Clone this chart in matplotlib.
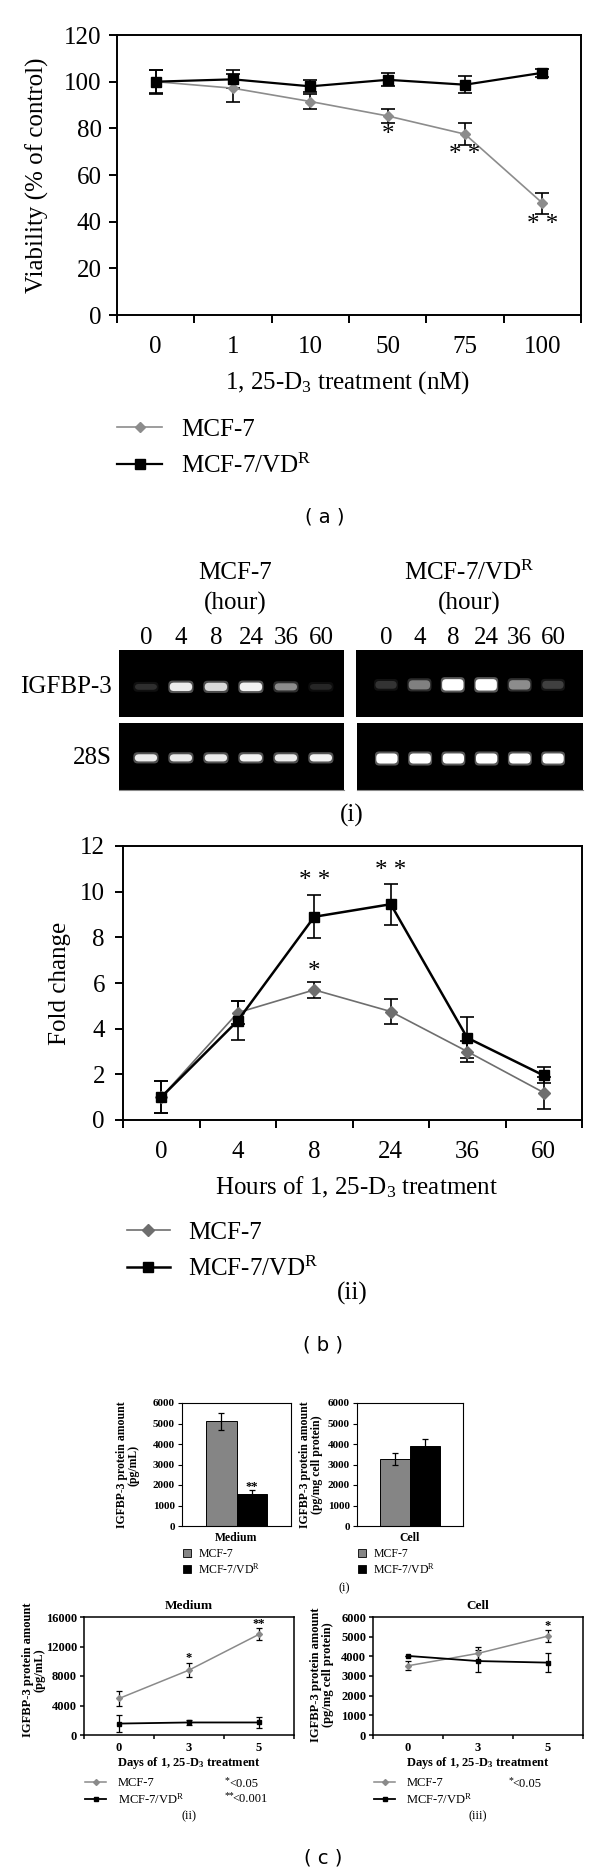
import numpy as np
import matplotlib.pyplot as plt
from matplotlib.patches import FancyBboxPatch, Patch

plt.rcParams["font.family"] = ["Liberation Serif", "DejaVu Serif"]

# (a) viability after 1,25-D3
dose_labels = ["0", "1", "10", "50", "75", "100"]
via_mcf7 = [100, 97.2, 91.5, 85.3, 77.5, 48.0]
via_mcf7_err = [5.0, 6.0, 3.2, 3.0, 4.6, 4.5]
via_vdr = [100, 101, 98, 100.8, 98.7, 103.8]
via_vdr_err = [5.2, 3.8, 2.5, 2.8, 3.6, 1.8]
via_stars = [(3, 77, "*"), (4, 68.5, "* *"), (5, 38.5, "* *")]

# (b)(i) RT-PCR band intensities (0-1)
hour_labels = ["0", "4", "8", "24", "36", "60"]
igfbp_mcf7 = [0.18, 0.92, 0.85, 0.95, 0.55, 0.15]
igfbp_vdr = [0.2, 0.5, 1.0, 1.0, 0.55, 0.25]
s28_mcf7 = [0.92, 0.92, 0.92, 0.95, 0.92, 0.95]
s28_vdr = [1.0, 1.0, 1.0, 1.0, 1.0, 1.0]

# (b)(ii) fold change
fold_mcf7 = [1.0, 4.7, 5.7, 4.75, 3.0, 1.2]
fold_mcf7_err = [0.7, 0.5, 0.35, 0.55, 0.45, 0.7]
fold_vdr = [1.0, 4.35, 8.9, 9.45, 3.6, 1.95]
fold_vdr_err = [0.7, 0.85, 0.95, 0.9, 0.9, 0.35]
fold_stars = [(2, 10.45, "* *"), (3, 10.9, "* *"), (2, 6.5, "*")]

# (c)(i) ELISA bars
comp_labels = ["Medium", "Cell"]
bar_mcf7 = [5100, 3270]
bar_mcf7_err = [420, 290]
bar_vdr = [1570, 3920]
bar_vdr_err = [170, 330]

# (c)(ii)/(iii) time course
day_labels = ["0", "3", "5"]
med_mcf7 = [4950, 8800, 13650]
med_mcf7_err = [1050, 950, 800]
med_vdr = [1550, 1700, 1700]
med_vdr_err = [1200, 400, 750]
cell_mcf7 = [3520, 4150, 5030]
cell_mcf7_err = [230, 340, 290]
cell_vdr = [4020, 3760, 3680]
cell_vdr_err = [0, 540, 480]

VDR = "MCF-7/$\\mathregular{VD^R}$"
D3 = "1, 25-$\\mathregular{D_3}$"

W, H = 600, 1875
fig = plt.figure(figsize=(W / 100, H / 100), dpi=100)


def box(x0, y0, x1, y1):
    return fig.add_axes([x0 / W, 1 - y1 / H, (x1 - x0) / W, (y1 - y0) / H])


def put(x, y, s, **kw):
    kw.setdefault("ha", "center")
    kw.setdefault("va", "center")
    fig.text(x / W, 1 - y / H, s, **kw)


def cat_axis(ax, labels, ymax, ystep, fs, tl, lw, xpad, ypad, weight="normal"):
    n = len(labels)
    ax.set_xlim(-0.5, n - 0.5)
    ax.set_xticks(range(n))
    ax.set_xticklabels(labels, fontweight=weight)
    ax.set_xticks(np.arange(n + 1) - 0.5, minor=True)
    ax.tick_params(axis="x", which="major", length=0, pad=xpad, labelsize=fs)
    ax.tick_params(axis="x", which="minor", length=tl, width=lw, direction="out")
    ax.set_ylim(0, ymax)
    ax.set_yticks(np.arange(0, ymax + 1, ystep))
    for t in ax.get_yticklabels():
        t.set_fontweight(weight)
    ax.tick_params(axis="y", length=tl, width=lw, pad=ypad, labelsize=fs)
    for sp in ax.spines.values():
        sp.set_linewidth(lw)


def legend(handles, labels, x, y, fs, **kw):
    fig.legend(handles, labels, loc="center left", bbox_to_anchor=(x / W, 1 - y / H),
               frameon=False, fontsize=fs, borderpad=0, borderaxespad=0, **kw)


def gel(ax, vals, yc, bh, xlim):
    ax.set_facecolor("black")
    ax.set_xlim(*xlim)
    ax.set_ylim(0, 1)
    ax.set_yticks([])
    for sp in ax.spines.values():
        sp.set_visible(False)
    for i, v in enumerate(vals):
        h = bh * (0.6 + 0.4 * v)
        ax.add_patch(FancyBboxPatch((i - 0.36, yc - h / 2 - 0.03), 0.72, h + 0.06,
                                    boxstyle="round,pad=0,rounding_size=0.12",
                                    mutation_aspect=0.5, fc=(v, v, v), ec="none", alpha=0.35))
        ax.add_patch(FancyBboxPatch((i - 0.32, yc - h / 2), 0.64, h,
                                    boxstyle="round,pad=0,rounding_size=0.12",
                                    mutation_aspect=0.5, fc=(v, v, v), ec="none"))


GRAY_A = "#8c8c8c"
GRAY_B = "#6e6e6e"
GRAY_BAR = "#858585"
GRAY_C = "#8a8a8a"
eb = dict(fmt="none", ecolor="black")

# ---------------- (a)
ax = box(117, 35, 581, 315)
x = np.arange(len(dose_labels))
ax.errorbar(x, via_mcf7, yerr=via_mcf7_err, elinewidth=1.2, capsize=5, capthick=1.2, zorder=2, **eb)
ax.errorbar(x, via_vdr, yerr=via_vdr_err, elinewidth=1.2, capsize=5, capthick=1.2, zorder=2, **eb)
la1, = ax.plot(x, via_mcf7, color=GRAY_A, lw=1.2, marker="D", ms=5.5, zorder=3)
la2, = ax.plot(x, via_vdr, color="black", lw=1.6, marker="s", ms=6.5, zorder=4)
cat_axis(ax, dose_labels, 120, 20, 18, 6, 1.4, 15, 5)
for i, yv, s in via_stars:
    ax.text(i, yv, s, ha="center", va="center", fontsize=18)
put(37, 175, "Viability (% of control)", rotation=90, fontsize=18)
put(348, 383, D3 + " treatment (nM)", fontsize=18)
legend([la1, la2], ["MCF-7", VDR], 117, 448, 18, handlelength=1.8, handletextpad=0.75, labelspacing=0.5)
put(325, 517, "( a )", family="DejaVu Sans", fontsize=14)

# ---------------- (b)(i) gels
put(235, 573, "MCF-7", fontsize=18)
put(235, 603, "(hour)", fontsize=18)
put(469, 573, VDR, fontsize=18)
put(469, 603, "(hour)", fontsize=18)
g1 = box(119, 650, 344, 717)
g2 = box(356, 650, 583, 717)
g3 = box(119, 723, 344, 790)
g4 = box(357, 723, 583, 790)
gel(g1, igfbp_mcf7, 0.45, 0.13, (-0.77, 5.66))
gel(g2, igfbp_vdr, 0.48, 0.17, (-0.9, 5.9))
gel(g3, s28_mcf7, 0.48, 0.11, (-0.77, 5.66))
gel(g4, s28_vdr, 0.47, 0.15, (-0.9, 5.9))
for g in (g1, g2):
    g.set_xticks(range(6))
    g.set_xticklabels(hour_labels)
    g.xaxis.tick_top()
    g.tick_params(axis="x", length=0, pad=1, labelsize=18)
for g in (g3, g4):
    g.set_xticks([])
    g.spines["bottom"].set_visible(True)
    g.spines["bottom"].set_color("#8a8a8a")
put(112, 687, "IGFBP-3", ha="right", fontsize=18)
put(112, 758, "28S", ha="right", fontsize=18)
put(352, 815, "(i)", fontsize=18)

# ---------------- (b)(ii)
ax = box(123, 846, 582, 1120)
x = np.arange(len(hour_labels))
ax.errorbar(x, fold_mcf7, yerr=fold_mcf7_err, elinewidth=1.2, capsize=5, capthick=1.2, zorder=2, **eb)
ax.errorbar(x, fold_vdr, yerr=fold_vdr_err, elinewidth=1.2, capsize=5, capthick=1.2, zorder=2, **eb)
lb1, = ax.plot(x, fold_mcf7, color=GRAY_B, lw=1.2, marker="D", ms=6, zorder=3)
lb2, = ax.plot(x, fold_vdr, color="black", lw=1.8, marker="s", ms=7, zorder=4)
cat_axis(ax, hour_labels, 12, 2, 18, 6, 1.4, 15, 7)
for i, yv, s in fold_stars:
    ax.text(i, yv, s, ha="center", va="center", fontsize=18)
put(60, 983, "Fold change", rotation=90, fontsize=18)
put(356, 1187, "Hours of " + D3 + " treatment", fontsize=18)
legend([lb1, lb2], ["MCF-7", VDR], 127, 1251, 18, handlelength=1.7, handletextpad=0.75, labelspacing=0.5)
put(352, 1293, "(ii)", fontsize=18)
put(323, 1345, "( b )", family="DejaVu Sans", fontsize=14)

# ---------------- (c)(i) bars
bar_boxes = [(182, 291), (357, 463)]
bar_ylab = ["IGFBP-3 protein amount\n(pg/mL)", "IGFBP-3 protein amount\n(pg/mg cell protein)"]
ylab_x = [128, 311]
for k, (x0, x1) in enumerate(bar_boxes):
    ax = box(x0, 1403, x1, 1526)
    ax.bar([-0.14], [bar_mcf7[k]], width=0.28, color=GRAY_BAR, edgecolor="black", lw=0.7,
           yerr=[bar_mcf7_err[k]], capsize=2.5, error_kw=dict(elinewidth=0.9, capthick=0.9))
    ax.bar([0.14], [bar_vdr[k]], width=0.28, color="black", edgecolor="black", lw=0.7,
           yerr=[bar_vdr_err[k]], capsize=2.5, error_kw=dict(elinewidth=0.9, capthick=0.9))
    ax.set_xlim(-0.5, 0.5)
    ax.set_ylim(0, 6000)
    ax.set_yticks(np.arange(0, 6001, 1000))
    ax.set_xticks([0])
    ax.set_xticklabels([comp_labels[k]], fontweight="bold")
    for t in ax.get_yticklabels():
        t.set_fontweight("bold")
    ax.tick_params(axis="x", length=0, pad=4, labelsize=8.5)
    ax.tick_params(axis="y", length=3, width=0.8, pad=2, labelsize=8)
    for sp in ax.spines.values():
        sp.set_linewidth(0.8)
    if k == 0:
        ax.text(0.14, 1900, "**", ha="center", va="center", fontsize=9, fontweight="bold")
    put(ylab_x[k], 1465, bar_ylab[k], rotation=90, fontsize=8.5, linespacing=1.0, fontweight="bold")
    hp = [Patch(fc=GRAY_BAR, ec="black", lw=0.6), Patch(fc="black", ec="black", lw=0.6)]
    legend(hp, ["MCF-7", VDR], x0 + 1, 1562, 8.5, handlelength=0.7, handleheight=0.7,
           handletextpad=0.6, labelspacing=0.15)
put(344, 1588, "(i)", fontsize=9)

# ---------------- (c)(ii)/(iii) time course
course = [
    (84, 294, med_mcf7, med_mcf7_err, med_vdr, med_vdr_err, 16000, 4000, "Medium",
     [(1, 10500, "*"), (2, 15000, "**")], "IGFBP-3 protein amount\n(pg/mL)", 34, 1670, "(ii)"),
    (373, 583, cell_mcf7, cell_mcf7_err, cell_vdr, cell_vdr_err, 6000, 1000, "Cell",
     [(2, 5550, "*")], "IGFBP-3 protein amount\n(pg/mg cell protein)", 322, 1675, "(iii)"),
]
for (x0, x1, ym, yme, yv, yve, ymax, ystep, title, stars, ylab, ylx, yly, tag) in course:
    ax = box(x0, 1617, x1, 1735)
    xd = np.arange(len(day_labels))
    ax.errorbar(xd, ym, yerr=yme, elinewidth=0.9, capsize=2.5, capthick=0.9, zorder=2, **eb)
    ax.errorbar(xd, yv, yerr=yve, elinewidth=0.9, capsize=2.5, capthick=0.9, zorder=2, **eb)
    lc1, = ax.plot(xd, ym, color=GRAY_C, lw=1.1, marker="D", ms=3, zorder=3)
    lc2, = ax.plot(xd, yv, color="black", lw=1.3, marker="s", ms=3.5, zorder=4)
    cat_axis(ax, day_labels, ymax, ystep, 9, 3, 1.1, 5, 2, weight="bold")
    for i, yy, s in stars:
        ax.text(i, yy, s, ha="center", va="center", fontsize=9, fontweight="bold")
    xc = (x0 + x1) / 2
    put(xc, 1606, title, fontsize=9.5, fontweight="bold")
    put(xc, 1763, "Days of " + D3 + " treatment", fontsize=9, fontweight="bold")
    put(ylx, yly, ylab, rotation=90, fontsize=9, linespacing=1.0, fontweight="bold")
    legend([lc1, lc2], ["MCF-7", VDR], x0 + 1, 1792, 9, handlelength=1.7,
           handletextpad=0.9, labelspacing=0.2)
    put(xc, 1816, tag, fontsize=9)

put(227, 1781, "*", fontsize=7)
put(244, 1784, "<0.05", fontsize=9)
put(229, 1796, "**", fontsize=7)
put(250, 1799, "<0.001", fontsize=9)
put(511, 1781, "*", fontsize=7)
put(527, 1784, "<0.05", fontsize=9)
put(323, 1858, "( c )", family="DejaVu Sans", fontsize=14)

fig.savefig("out.png", dpi=100, facecolor="white")
